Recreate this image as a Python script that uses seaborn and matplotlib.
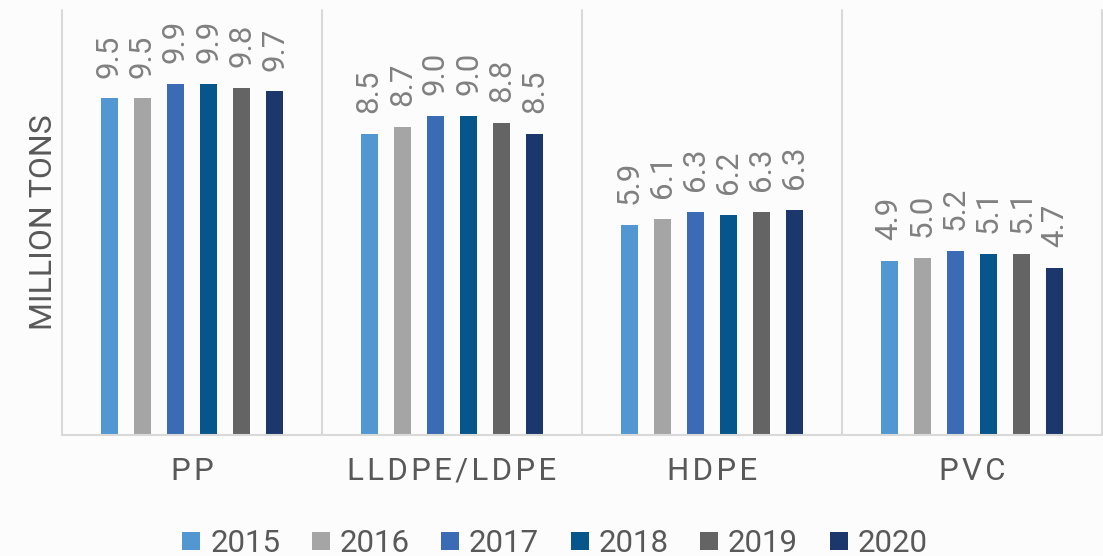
import matplotlib
matplotlib.use("Agg")
import matplotlib.pyplot as plt
from matplotlib.lines import Line2D
import seaborn as sns
import pandas as pd

categories = ["PP", "LLDPE/LDPE", "HDPE", "PVC"]
years = ["2015", "2016", "2017", "2018", "2019", "2020"]
v2015 = [9.5, 8.5, 5.93, 4.9]
v2016 = [9.5, 8.7, 6.1, 5.0]
v2017 = [9.9, 9.0, 6.29, 5.2]
v2018 = [9.9, 9.0, 6.2, 5.1]
v2019 = [9.8, 8.8, 6.3, 5.1]
v2020 = [9.7, 8.5, 6.34, 4.7]
colors = ["#5297D2", "#A5A5A5", "#3B6BB5", "#06558B", "#646464", "#1C376C"]
ylabel = "MILLION TONS"

series = [v2015, v2016, v2017, v2018, v2019, v2020]
rows = []
for y, vals in zip(years, series):
    for c, v in zip(categories, vals):
        rows.append({"category": c, "year": y, "value": v})
df = pd.DataFrame(rows)

sns.set_style("white")
plt.rcParams["font.family"] = ["Roboto", "DejaVu Sans"]

BG = "#fcfcfc"
GRID = "#d9d9d9"
TXT = "#595959"

fig = plt.figure(figsize=(11.03, 5.56), dpi=100, facecolor=BG)
ax = fig.add_axes([62 / 1103, 1 - 434.5 / 556, 1040 / 1103, (434.5 - 10) / 556])
ax.set_facecolor(BG)

sns.barplot(data=df, x="category", y="value", hue="year", order=categories,
            hue_order=years, palette=colors, saturation=1, width=0.764,
            gap=0.477, dodge=True, linewidth=0, legend=False, ax=ax,
            errorbar=None)

for cont in ax.containers:
    ax.bar_label(cont, fmt="%.1f", rotation=90, padding=15, fontsize=22.5,
                 color="#808080")

ax.set_xlim(-0.5, 3.5)
ax.set_ylim(0, 12.0)
ax.set_yticks([])
ax.set_xlabel("")
ax.set_ylabel(ylabel, fontsize=23, color=TXT, labelpad=3)

spaced = ["\u200a".join(list(c)) for c in categories]
ax.set_xticks(range(len(categories)))
ax.set_xticklabels(spaced, fontsize=22.5, color=TXT)
ax.tick_params(axis="x", length=0, pad=16)

for s in ["top", "right", "left"]:
    ax.spines[s].set_visible(False)
ax.spines["bottom"].set_color(GRID)
ax.spines["bottom"].set_linewidth(1.5)

for xb in [-0.5, 0.5, 1.5, 2.5, 3.5]:
    ax.axvline(xb, color=GRID, lw=1.5, clip_on=False, zorder=0)

handles = [Line2D([], [], marker="s", linestyle="none", markersize=12.6,
                  markerfacecolor=c, markeredgewidth=0) for c in colors]
fig.legend(handles, years, loc="lower center", bbox_to_anchor=(0.503, -0.004),
           ncol=6, frameon=False, fontsize=22.5, handlelength=0.6,
           handletextpad=0.3, columnspacing=1.0, labelcolor=TXT,
           borderpad=0, borderaxespad=0)

fig.savefig("out.png", dpi=100, facecolor=BG)
